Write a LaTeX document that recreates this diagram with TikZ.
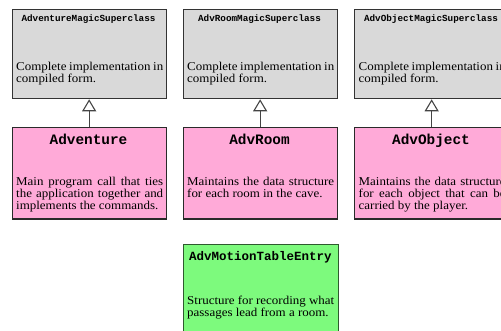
\documentclass[tikz,border=0pt]{standalone}
\usepackage{fontspec}
\setmainfont{Liberation Serif}[FakeStretch=1.08]
\setmonofont{Liberation Mono}
\usetikzlibrary{arrows.meta}

\definecolor{libgray}{HTML}{D9D9D9}
\definecolor{grayedge}{HTML}{333333}
\definecolor{classpink}{HTML}{FFAAD8}
\definecolor{pinkedge}{HTML}{2A2A2A}
\definecolor{structgreen}{HTML}{7DFA7D}
\definecolor{greenedge}{HTML}{2E5A2E}
\definecolor{linkgray}{HTML}{444444}

\begin{document}
\begin{tikzpicture}[x=1pt,y=-1pt,
  classbox/.style={rectangle, draw, line width=1.3pt, inner sep=0pt,
    anchor=north west, minimum width=154pt},
  libbox/.style={classbox, fill=libgray, draw=grayedge, minimum height=89pt},
  progbox/.style={classbox, fill=classpink, draw=pinkedge, minimum height=91.5pt},
  databox/.style={classbox, fill=structgreen, draw=greenedge,
    minimum width=155.5pt, minimum height=100pt},
  libtitle/.style={anchor=base, inner sep=0pt,
    font=\fontsize{9.3}{10}\selectfont\ttfamily\bfseries},
  progtitle/.style={anchor=base, inner sep=0pt,
    font=\fontsize{14.4}{16}\selectfont\ttfamily\bfseries},
  datatitle/.style={anchor=base, inner sep=0pt,
    font=\fontsize{12.5}{14}\selectfont\ttfamily\bfseries},
  desc/.style={anchor=north west, inner sep=0pt, text width=147pt,
    align=justify, font=\fontsize{12}{12}\selectfont},
  extends/.style={draw=linkgray, line width=1.2pt,
    -{Triangle[open, length=12pt, width=14pt, line width=1.1pt]}}
]
\clip (0,0) rectangle (501,331);
\fill[white] (0,0) rectangle (501,331);

% compiled library superclasses
\node[libbox] (g1) at (11.5,9) {};
\node[libbox] (g2) at (182.5,9) {};
\node[libbox] (g3) at (354,9) {};

% classes written for the program
\node[progbox] (p1) at (11.5,127) {};
\node[progbox] (p2) at (182.5,127) {};
\node[progbox] (p3) at (354,127) {};

% data record class
\node[databox] (m1) at (182.5,244) {};

% titles
\node[libtitle] (g1t) at (88.5,22) {AdventureMagicSuperclass};
\node[libtitle] (g2t) at (259.5,22) {AdvRoomMagicSuperclass};
\node[libtitle] (g3t) at (431,22) {AdvObjectMagicSuperclass};
\node[progtitle] (p1t) at (88.5,145) {Adventure};
\node[progtitle] (p2t) at (259.5,145) {AdvRoom};
\node[progtitle] (p3t) at (431,145) {AdvObject};
\node[datatitle] (m1t) at (260.3,260.5) {AdvMotionTableEntry};

% descriptions
\node[desc] (g1d) at (16,61.7) {Complete implementation in\linebreak compiled form.};
\node[desc] (g2d) at (187,61.7) {Complete implementation in\linebreak compiled form.};
\node[desc] (g3d) at (358.5,61.7) {Complete implementation in\linebreak compiled form.};
\node[desc] (p1d) at (16,176.7) {Main program call that ties\linebreak the application together and\linebreak implements the commands.};
\node[desc] (p2d) at (187,176.7) {Maintains the data structure\linebreak for each room in the cave.};
\node[desc] (p3d) at (358.5,176.7) {Maintains the data structure\linebreak for each object that can be\linebreak carried by the player.};
\node[desc] (m1d) at (187,295.7) {Structure for recording what\linebreak passages lead from a room.};

% inheritance links
\draw[extends] (p1.north) -- (g1.south);
\draw[extends] (p2.north) -- (g2.south);
\draw[extends] (p3.north) -- (g3.south);
\end{tikzpicture}
\end{document}
